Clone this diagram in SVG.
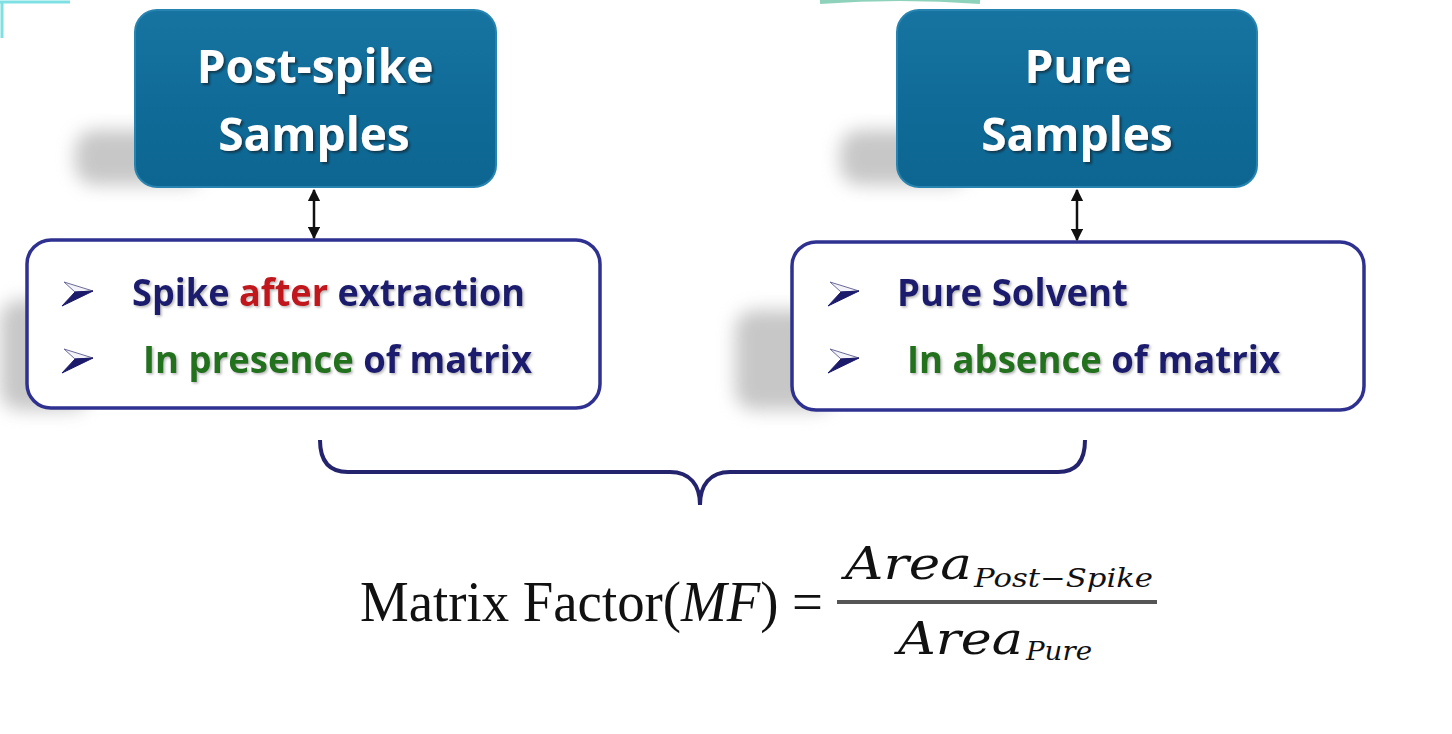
<svg xmlns="http://www.w3.org/2000/svg" width="1452" height="734" viewBox="0 0 1452 734">
<defs>
<linearGradient id="boxfill" x1="0" y1="0" x2="0" y2="1">
<stop offset="0" stop-color="#1774a1"/>
<stop offset="0.5" stop-color="#106b98"/>
<stop offset="1" stop-color="#0d6691"/>
</linearGradient>
<filter id="blur" x="-30%" y="-30%" width="160%" height="160%"><feGaussianBlur stdDeviation="9"/></filter>
<filter id="tshadow" x="-10%" y="-20%" width="120%" height="150%"><feDropShadow dx="2" dy="2" stdDeviation="1.2" flood-color="#0a2a3a" flood-opacity="0.8"/></filter>
<filter id="lshadow" x="-10%" y="-20%" width="120%" height="150%"><feDropShadow dx="1.5" dy="1.5" stdDeviation="1" flood-color="#888" flood-opacity="0.6"/></filter>
<marker id="ah" viewBox="0 0 10 10" refX="9" refY="5" markerWidth="5" markerHeight="5" orient="auto-start-reverse"><path d="M0,0 L10,5 L0,10 z" fill="#111"/></marker>
<g id="bullet">
<path d="M0,0 L29,9 L11,10 Z" fill="#f2f2f8" stroke="#6a6a9a" stroke-width="1"/>
<path d="M29,9 L-2,24 L11,10 Z" fill="#1b1a6b" stroke="#1b1a6b" stroke-width="1"/>
</g>
<style>
.top{fill:url(#boxfill);stroke:#2784b0;stroke-width:2}
.ttl{font-family:"Open Sans",Lato,sans-serif;font-weight:bold;font-size:46px;fill:#ffffff;text-anchor:middle}
.box{fill:#ffffff;stroke:#2e3190;stroke-width:3.5}
.shadow{fill:#9a9a9a;opacity:0.55}
.itm{font-family:"Open Sans",Lato,sans-serif;font-weight:bold;font-size:38px}
.navy{fill:#1c1b6e}
.red{fill:#c0141b}
.green{fill:#23711f}
.conn{stroke:#111;stroke-width:2.5;fill:none}
.brace{stroke:#23236e;stroke-width:4;fill:none}
.math{font-family:"Liberation Serif","DejaVu Serif",serif;fill:#111}
.mi{font-family:"DejaVu Serif","Liberation Serif",serif;font-style:italic;fill:#111}
</style>
</defs>
<rect x="0" y="0" width="1452" height="734" fill="#ffffff"/>
<path d="M0,2 H70 M2,2 V38" stroke="#7fe0e4" stroke-width="3" fill="none"/>
<path d="M820,2 Q900,-4 980,2" stroke="#5fbfa0" stroke-width="4" fill="none" opacity="0.7"/>

<g id="node-postspike">
<rect class="shadow" x="75" y="130" width="130" height="55" rx="20" filter="url(#blur)"/>
<rect class="top" x="135" y="10" width="361" height="177" rx="22"/>
<text class="ttl" x="315" y="83" filter="url(#tshadow)">Post-spike</text>
<text class="ttl" x="314" y="151" filter="url(#tshadow)">Samples</text>
</g>

<g id="node-pure">
<rect class="shadow" x="840" y="130" width="130" height="55" rx="20" filter="url(#blur)"/>
<rect class="top" x="897" y="10" width="360" height="177" rx="22"/>
<text class="ttl" x="1078" y="83" filter="url(#tshadow)">Pure</text>
<text class="ttl" x="1077" y="151" filter="url(#tshadow)">Samples</text>
</g>

<g id="node-postspike-details">
<rect class="shadow" x="0" y="300" width="90" height="110" rx="20" filter="url(#blur)"/>
<rect class="box" x="27" y="240" width="573" height="168" rx="24"/>
<use href="#bullet" x="64" y="282"/>
<use href="#bullet" x="64" y="349"/>
<text class="itm" x="132" y="306" textLength="393" lengthAdjust="spacingAndGlyphs" filter="url(#lshadow)"><tspan class="navy">Spike </tspan><tspan class="red">after</tspan><tspan class="navy"> extraction</tspan></text>
<text class="itm" x="143" y="373" textLength="389" lengthAdjust="spacingAndGlyphs" filter="url(#lshadow)"><tspan class="green">In presence</tspan><tspan class="navy"> of matrix</tspan></text>
</g>

<g id="node-pure-details">
<rect class="shadow" x="735" y="310" width="100" height="100" rx="20" filter="url(#blur)"/>
<rect class="box" x="792" y="242" width="572" height="168" rx="24"/>
<use href="#bullet" x="830" y="282"/>
<use href="#bullet" x="830" y="349"/>
<text class="itm" x="897" y="306" textLength="231" lengthAdjust="spacingAndGlyphs" filter="url(#lshadow)"><tspan class="navy">Pure Solvent</tspan></text>
<text class="itm" x="907" y="373" textLength="373" lengthAdjust="spacingAndGlyphs" filter="url(#lshadow)"><tspan class="green">In absence</tspan><tspan class="navy"> of matrix</tspan></text>
</g>

<g id="connectors">
<line class="conn" x1="314" y1="190" x2="314" y2="238" marker-start="url(#ah)" marker-end="url(#ah)"/>
<line class="conn" x1="1077" y1="190" x2="1077" y2="240" marker-start="url(#ah)" marker-end="url(#ah)"/>
<path class="brace" d="M320,440 C320,462 330,472 348,472 H670 C690,472 700,485 700,505 C700,485 710,472 730,472 H1058 C1075,472 1085,462 1085,440"/>
</g>

<g id="formula">
<text class="math" x="360" y="621" font-size="56" textLength="463" lengthAdjust="spacingAndGlyphs">Matrix Factor(<tspan font-style="italic">MF</tspan>) =</text>
<line x1="837" y1="602" x2="1157" y2="602" stroke="#555" stroke-width="4"/>
<text class="mi" x="845" y="579" font-size="45" textLength="127" lengthAdjust="spacingAndGlyphs">Area</text>
<text class="mi" x="974" y="587" font-size="26" textLength="179" lengthAdjust="spacingAndGlyphs">Post−Spike</text>
<text class="mi" x="898" y="654" font-size="45" textLength="125" lengthAdjust="spacingAndGlyphs">Area</text>
<text class="mi" x="1026" y="660" font-size="26" textLength="66" lengthAdjust="spacingAndGlyphs">Pure</text>
</g>
</svg>
